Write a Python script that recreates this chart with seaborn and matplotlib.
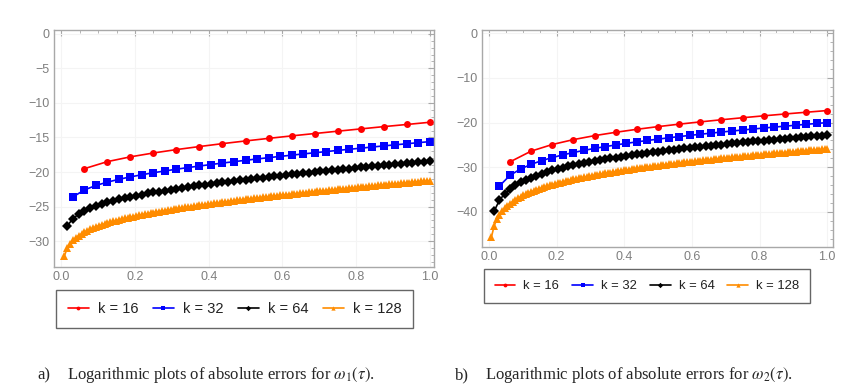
import matplotlib
matplotlib.use("Agg")
import matplotlib.pyplot as plt
import seaborn as sns
import numpy as np
from matplotlib.ticker import MultipleLocator

# step counts and legend labels
ks = [16, 32, 64, 128]
labels = ["k = 16", "k = 32", "k = 64", "k = 128"]

# log10 of absolute errors for omega_1(tau)
left_k16 = [-19.51, -18.49, -17.80, -17.24, -16.75, -16.31, -15.89, -15.50,
            -15.13, -14.77, -14.43, -14.09, -13.76, -13.43, -13.12, -12.80]
left_k32 = [-23.60, -22.59, -21.94, -21.46, -21.05, -20.70, -20.39, -20.10,
            -19.84, -19.59, -19.35, -19.13, -18.91, -18.70, -18.50, -18.30,
            -18.11, -17.92, -17.74, -17.56, -17.38, -17.21, -17.04, -16.87,
            -16.71, -16.55, -16.38, -16.22, -16.06, -15.91, -15.75, -15.60]
left_k64 = [-27.81, -26.74, -26.09, -25.62, -25.24, -24.92, -24.64, -24.39,
            -24.17, -23.96, -23.77, -23.59, -23.42, -23.26, -23.10, -22.96,
            -22.82, -22.68, -22.55, -22.42, -22.30, -22.18, -22.06, -21.94,
            -21.83, -21.72, -21.61, -21.51, -21.40, -21.30, -21.20, -21.10,
            -21.00, -20.91, -20.81, -20.72, -20.62, -20.53, -20.44, -20.35,
            -20.26, -20.17, -20.09, -20.00, -19.92, -19.83, -19.75, -19.66,
            -19.58, -19.50, -19.42, -19.34, -19.26, -19.18, -19.10, -19.02,
            -18.94, -18.86, -18.78, -18.71, -18.63, -18.55, -18.48, -18.40]
left_k128 = [-32.19, -31.05, -30.38, -29.90, -29.51, -29.20, -28.93, -28.69,
             -28.47, -28.28, -28.10, -27.94, -27.78, -27.64, -27.51, -27.38,
             -27.26, -27.14, -27.03, -26.92, -26.82, -26.72, -26.62, -26.53,
             -26.44, -26.35, -26.26, -26.18, -26.10, -26.02, -25.94, -25.87,
             -25.79, -25.72, -25.65, -25.58, -25.51, -25.44, -25.38, -25.31,
             -25.25, -25.18, -25.12, -25.06, -25.00, -24.94, -24.88, -24.82,
             -24.76, -24.70, -24.65, -24.59, -24.54, -24.48, -24.43, -24.37,
             -24.32, -24.27, -24.21, -24.16, -24.11, -24.06, -24.01, -23.96,
             -23.91, -23.86, -23.81, -23.76, -23.71, -23.67, -23.62, -23.57,
             -23.52, -23.48, -23.43, -23.38, -23.34, -23.29, -23.25, -23.20,
             -23.16, -23.11, -23.07, -23.02, -22.98, -22.94, -22.89, -22.85,
             -22.81, -22.76, -22.72, -22.68, -22.64, -22.59, -22.55, -22.51,
             -22.47, -22.43, -22.39, -22.35, -22.30, -22.26, -22.22, -22.18,
             -22.14, -22.10, -22.06, -22.02, -21.98, -21.94, -21.90, -21.86,
             -21.83, -21.79, -21.75, -21.71, -21.67, -21.63, -21.59, -21.55,
             -21.52, -21.48, -21.44, -21.40, -21.36, -21.33, -21.29, -21.25]

# log10 of absolute errors for omega_2(tau)
right_k16 = [-28.80, -26.39, -24.91, -23.81, -22.92, -22.17, -21.50, -20.90,
             -20.35, -19.84, -19.36, -18.91, -18.48, -18.07, -17.68, -17.30]
right_k32 = [-34.20, -31.82, -30.39, -29.35, -28.52, -27.83, -27.23, -26.70,
             -26.22, -25.78, -25.38, -25.01, -24.65, -24.32, -24.00, -23.70,
             -23.41, -23.13, -22.87, -22.61, -22.36, -22.12, -21.88, -21.66,
             -21.43, -21.22, -21.00, -20.80, -20.59, -20.39, -20.19, -20.00]
right_k64 = [-39.86, -37.39, -35.94, -34.89, -34.07, -33.39, -32.81, -32.31,
             -31.86, -31.45, -31.08, -30.73, -30.41, -30.11, -29.83, -29.57,
             -29.32, -29.07, -28.84, -28.63, -28.41, -28.21, -28.02, -27.83,
             -27.65, -27.47, -27.30, -27.13, -26.97, -26.81, -26.66, -26.50,
             -26.36, -26.21, -26.07, -25.93, -25.80, -25.66, -25.53, -25.41,
             -25.28, -25.15, -25.03, -24.91, -24.79, -24.68, -24.56, -24.45,
             -24.34, -24.23, -24.12, -24.01, -23.90, -23.80, -23.69, -23.59,
             -23.49, -23.39, -23.29, -23.19, -23.09, -23.00, -22.90, -22.80]
right_k128 = [-45.61, -43.14, -41.69, -40.65, -39.85, -39.18, -38.62, -38.13,
              -37.69, -37.30, -36.94, -36.61, -36.31, -36.03, -35.76, -35.51,
              -35.28, -35.06, -34.85, -34.65, -34.45, -34.27, -34.09, -33.92,
              -33.76, -33.60, -33.44, -33.30, -33.15, -33.01, -32.88, -32.74,
              -32.61, -32.49, -32.37, -32.25, -32.13, -32.01, -31.90, -31.79,
              -31.68, -31.58, -31.48, -31.38, -31.28, -31.18, -31.08, -30.99,
              -30.89, -30.80, -30.71, -30.62, -30.54, -30.45, -30.37, -30.28,
              -30.20, -30.12, -30.03, -29.96, -29.88, -29.80, -29.72, -29.65,
              -29.57, -29.50, -29.42, -29.35, -29.28, -29.21, -29.14, -29.07,
              -29.00, -28.93, -28.87, -28.80, -28.73, -28.66, -28.60, -28.53,
              -28.47, -28.41, -28.34, -28.28, -28.22, -28.16, -28.10, -28.04,
              -27.97, -27.91, -27.86, -27.80, -27.74, -27.68, -27.62, -27.57,
              -27.51, -27.45, -27.40, -27.34, -27.29, -27.23, -27.17, -27.12,
              -27.07, -27.01, -26.96, -26.91, -26.85, -26.80, -26.75, -26.70,
              -26.65, -26.59, -26.54, -26.49, -26.44, -26.39, -26.34, -26.29,
              -26.24, -26.19, -26.14, -26.09, -26.05, -26.00, -25.95, -25.90]

sns.set_style("white")
plt.rcParams["font.family"] = ["Liberation Sans", "DejaVu Sans"]
plt.rcParams["mathtext.fontset"] = "stix"

colors = ["#ff0000", "#0000ff", "#000000", "#ff8c00"]
markers = ["o", "s", "D", "^"]
msizes = [5.0, 5.4, 5.0, 5.6]

fig = plt.figure(figsize=(8.59, 3.92), dpi=100)
ax1 = fig.add_axes([0.0629, 0.3196, 0.4424, 0.6038])
ax2 = fig.add_axes([0.5608, 0.3707, 0.4093, 0.5528])


def draw(ax, series, ylim, ymaj, ymin, xlim, leg_xy, leg_fs, hlen):
    for k, lab, ys, col, mk, ms in zip(ks, labels, series, colors, markers, msizes):
        tau = np.arange(1, k + 1) / k
        sns.lineplot(x=tau, y=ys, ax=ax, color=col, marker=mk, markersize=ms,
                     markeredgewidth=0, linewidth=1.2, label=lab)
    ax.set_xlim(*xlim)
    ax.set_ylim(*ylim)
    ax.xaxis.set_major_locator(MultipleLocator(0.2))
    ax.xaxis.set_minor_locator(MultipleLocator(0.05))
    ax.yaxis.set_major_locator(MultipleLocator(ymaj))
    ax.yaxis.set_minor_locator(MultipleLocator(ymin))
    ax.grid(True, which="major", color="#f4f4f4", linewidth=0.8)
    ax.set_axisbelow(True)
    for sp in ax.spines.values():
        sp.set_color("#a8a8a8")
        sp.set_linewidth(1.0)
    ax.tick_params(which="both", direction="in", top=True, right=True,
                   color="#a8a8a8", labelcolor="#7f7f7f", labelsize=9, pad=3)
    ax.tick_params(which="major", length=4, width=0.8)
    ax.tick_params(which="minor", length=2, width=0.6)
    ax.set_xlabel("")
    ax.set_ylabel("")
    leg = ax.legend(loc="center", bbox_to_anchor=leg_xy, bbox_transform=fig.transFigure,
                    ncol=4, frameon=True, fancybox=False, edgecolor="#404040",
                    fontsize=leg_fs, handlelength=hlen, handletextpad=0.6,
                    columnspacing=1.0, borderpad=0.8, markerscale=0.55)
    leg.get_frame().set_linewidth(1.0)
    for t in leg.get_texts():
        t.set_color("#222222")


draw(ax1, [left_k16, left_k32, left_k64, left_k128], (-33.7, 0.55), 5, 1,
     (-0.02, 1.012), (0.273, 0.2117), 10.5, 1.45)
draw(ax2, [right_k16, right_k32, right_k64, right_k128], (-47.8, 0.75), 10, 2,
     (-0.021, 1.018), (0.7532, 0.2704), 9.4, 1.6)

cap = dict(family=["Liberation Serif", "DejaVu Serif"], fontsize=12, va="center")
fig.text(0.0431, 0.0434, "a)", **cap)
fig.text(0.078, 0.0434, r"Logarithmic plots of absolute errors for $\omega_1(\tau)$.", **cap)
fig.text(0.5297, 0.0434, "b)", **cap)
fig.text(0.5646, 0.0434, r"Logarithmic plots of absolute errors for $\omega_2(\tau)$.", **cap)

fig.savefig("out.png", dpi=100)
